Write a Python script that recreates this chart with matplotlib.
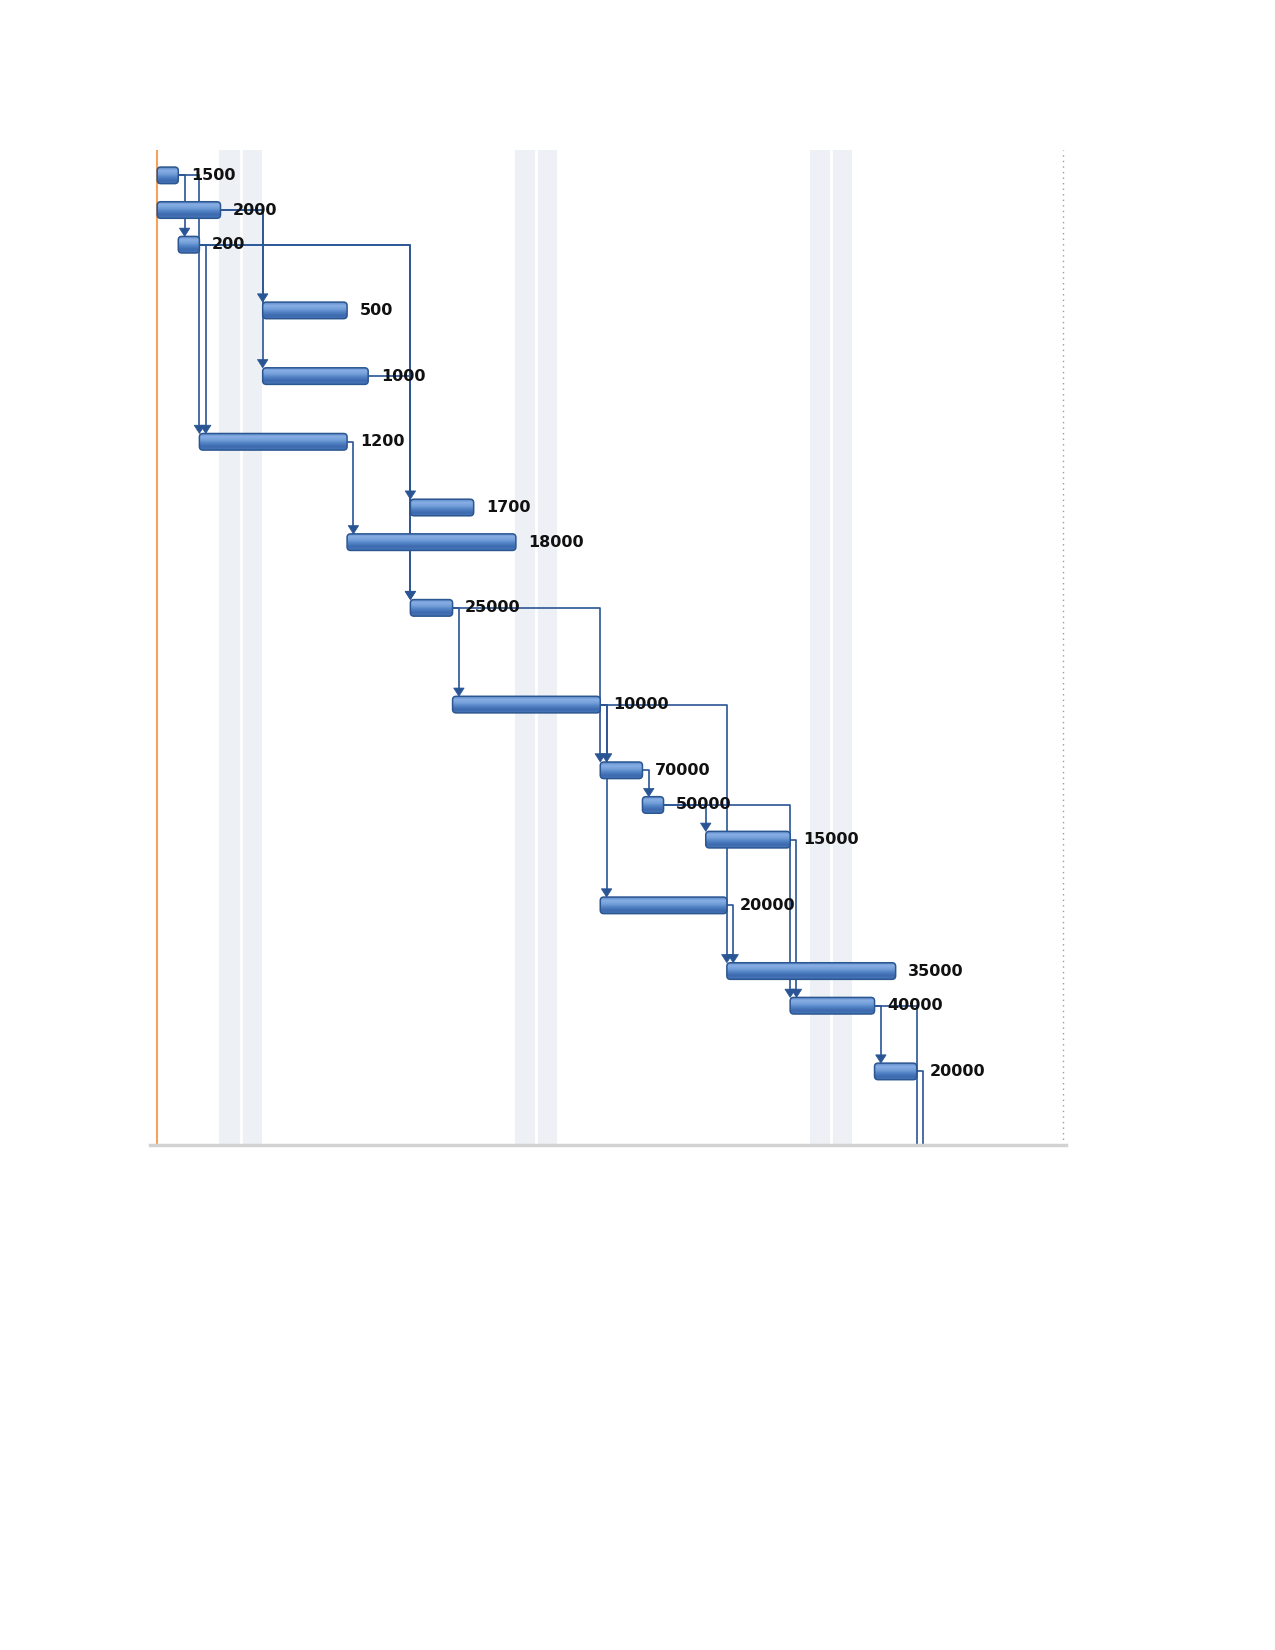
import numpy as np
import matplotlib.pyplot as plt
from matplotlib.colors import LinearSegmentedColormap
from matplotlib.patches import Polygon, FancyBboxPatch

# task labels (bar annotations), start/finish in days
labels = ["1500", "2000", "200", "500", "1000", "1200", "1700", "18000", "25000",
          "10000", "70000", "50000", "15000", "20000", "35000", "40000", "20000", ""]
starts = [0, 0, 1, 5, 5, 2, 12, 9, 12, 14, 21, 23, 26, 21, 27, 30, 34, 36]
finish = [1, 3, 2, 9, 10, 9, 15, 17, 14, 21, 23, 24, 30, 27, 35, 34, 36, 38]
# height of each task row in text lines (rows wrap in the table)
row_lines = [1, 1, 2, 2, 2, 2, 1, 2, 3, 2, 1, 1, 2, 2, 1, 2, 3, 1]
# finish-to-start links (predecessor, successor)
links = [(0, 2), (0, 5), (2, 5), (1, 3), (1, 4), (2, 6), (2, 8), (4, 8), (5, 7),
         (8, 9), (8, 10), (9, 10), (9, 13), (9, 14), (10, 11), (11, 12), (11, 15),
         (12, 15), (13, 14), (15, 16), (15, 17), (16, 17)]
# nonworking time shading (start day of each band)
nonwork = [2.95, 16.95, 30.95]

LINK = "#2A5595"
BAR_EDGE = "#2B5690"
bar_cmap = LinearSegmentedColormap.from_list(
    "bar", ["#5A88C8", "#89AFE4", "#74A0DA", "#5181C4", "#3D6AAE", "#4876BA"])

row_h = [0.936 * n + 0.11 for n in row_lines]
ys = np.concatenate([[0], np.cumsum(row_h[:-1])])
bh = 0.5
ah = 0.25   # arrow height (y units)
aw = 0.25   # arrow half width (x units)

fig = plt.figure(figsize=(12.75, 16.5), dpi=100)
ax = fig.add_axes([0.118, 0.3063, 0.718, 0.6027])
xmin, xmax = -0.32, 43.07
ymin, ymax = 29.24, -0.76

# nonworking bands
for s in nonwork:
    ax.axvspan(s, s + 2, color="#EDF0F5", zorder=0, lw=0)
    ax.axvline(s + 1, color="white", lw=2, zorder=0.5)

# project start line and right boundary
ax.axvline(-0.02, color="#F5A35C", lw=1.5, zorder=1)
ax.axvline(42.95, color="#9A9A9A", lw=1, ls=(0, (1, 3)), zorder=1)

# links
for p, s in links:
    x0, y0 = finish[p], ys[p]
    xa = starts[s] if starts[s] > finish[p] else finish[p] + 0.3
    ytip = ys[s] - bh / 2
    ax.plot([x0, xa, xa], [y0, y0, ytip - ah + 0.02], color=LINK, lw=1.2,
            zorder=2, solid_joinstyle="round")
    tri = Polygon([[xa - aw, ytip - ah], [xa + aw, ytip - ah], [xa, ytip]],
                  closed=True, facecolor=LINK, edgecolor=LINK, lw=0.5, zorder=4)
    ax.add_patch(tri)

# bars
grad = np.linspace(0, 1, 64).reshape(-1, 1)
for i in range(len(labels)):
    x0, x1, y = starts[i], finish[i], ys[i]
    if y - bh / 2 > ymin:
        continue
    box = FancyBboxPatch((x0, y - bh / 2), x1 - x0, bh,
                         boxstyle="round,pad=0,rounding_size=0.17",
                         mutation_aspect=0.637, facecolor="none",
                         edgecolor=BAR_EDGE, lw=1.1, zorder=3.5)
    ax.add_patch(box)
    im = ax.imshow(grad, cmap=bar_cmap, aspect="auto", origin="upper",
                   extent=(x0, x1, y + bh / 2, y - bh / 2), zorder=3,
                   interpolation="bilinear")
    im.set_clip_path(box)
    ax.text(x1 + 0.6, y, labels[i], fontsize=11.5, fontweight="bold",
            color="#111111", va="center", ha="left", zorder=5, clip_on=True)

ax.set_xlim(xmin, xmax)
ax.set_ylim(ymin, ymax)
ax.set_xticks([])
ax.set_yticks([])
for side in ["top", "left", "right"]:
    ax.spines[side].set_visible(False)
ax.spines["bottom"].set_color("#D2D2D2")
ax.spines["bottom"].set_linewidth(2.5)

fig.savefig("out.png", dpi=100)
